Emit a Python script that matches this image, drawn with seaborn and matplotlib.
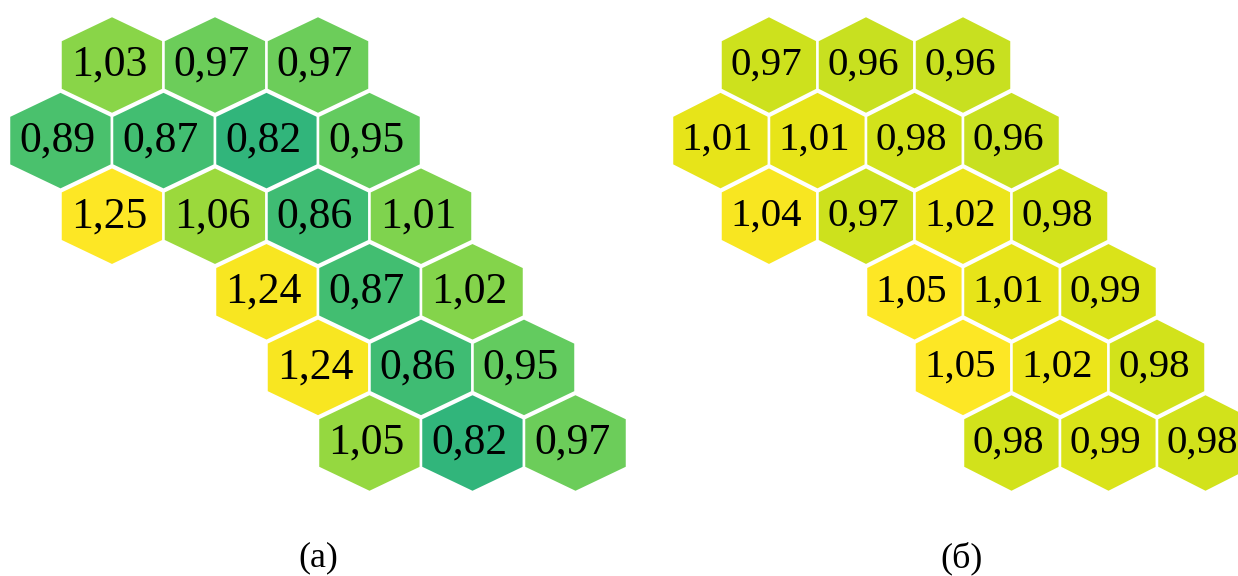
import numpy as np
import matplotlib
matplotlib.use("Agg")
import matplotlib.pyplot as plt
from matplotlib.collections import PolyCollection
from matplotlib.colors import Normalize
import seaborn as sns

sns.set_theme(style="white")
plt.rcParams["font.family"] = ["Liberation Serif", "DejaVu Serif"]

# Hexagon grid layout: each row starts at a half-cell offset (in cell widths)
row_starts = [1.0, 0.5, 1.0, 2.5, 3.0, 3.5]

# Panel (a) values, row by row
values_a = [
    [1.03, 0.97, 0.97],
    [0.89, 0.87, 0.82, 0.95],
    [1.25, 1.06, 0.86, 1.01],
    [1.24, 0.87, 1.02],
    [1.24, 0.86, 0.95],
    [1.05, 0.82, 0.97],
]

# Panel (б) values, row by row
values_b = [
    [0.97, 0.96, 0.96],
    [1.01, 1.01, 0.98, 0.96],
    [1.04, 0.97, 1.02, 0.98],
    [1.05, 1.01, 0.99],
    [1.05, 1.02, 0.98],
    [0.98, 0.99, 0.98],
]

panel_labels = ["(a)", "(б)"]

cmap = sns.color_palette("viridis", as_cmap=True)

W, H = 1238, 576
fig = plt.figure(figsize=(W / 100, H / 100), dpi=100)

# Pointy-top hexagon outline in grid units (width 1, row pitch 1)
RV = 0.65
ang = np.deg2rad(np.arange(90, 450, 60))
hex_dx = np.cos(ang) / np.cos(np.deg2rad(30)) * 0.5
hex_dy = np.sin(ang) * RV


def draw_panel(ax, values, norm, fontsize):
    polys, cols, centers = [], [], []
    for r, (start, row) in enumerate(zip(row_starts, values)):
        for k, v in enumerate(row):
            cx, cy = start + k, r
            polys.append(np.column_stack([cx + hex_dx, cy + hex_dy]))
            cols.append(cmap(norm(v)))
            centers.append((cx, cy, v))
    pc = PolyCollection(polys, facecolors=cols, edgecolors="white",
                        linewidths=1.8)
    ax.add_collection(pc)
    for cx, cy, v in centers:
        ax.text(cx - 0.03, cy, f"{v:.2f}".replace(".", ","), ha="center",
                va="center", fontsize=fontsize, color="black")


# pixel geometry of each panel: (x origin, cell width, axes left, axes right)
panels = [
    (values_a, Normalize(vmin=0.0, vmax=1.25), 31.5, 9.0, 103.0, 0, 640),
    (values_b, Normalize(vmin=0.0, vmax=1.05), 29.5, 672.0, 97.0, 640, 1238),
]
y0, pitch = 65.0, 75.6
ax_top, ax_bot = 0, 520

for (vals, norm, fs, x0, cw, pl, pr), lab in zip(panels, panel_labels):
    ax = fig.add_axes([pl / W, 1 - ax_bot / H, (pr - pl) / W,
                       (ax_bot - ax_top) / H])
    ax.set_xlim((pl - x0) / cw, (pr - x0) / cw)
    ax.set_ylim((ax_bot - y0) / pitch, (ax_top - y0) / pitch)
    ax.set_axis_off()
    draw_panel(ax, vals, norm, fs)

fig.text(318 / W, 1 - 558 / H, panel_labels[0], ha="center", va="center",
         fontsize=26, color="black")
fig.text(962 / W, 1 - 558 / H, panel_labels[1], ha="center", va="center",
         fontsize=26, color="black")

fig.savefig("out.png", dpi=100, facecolor="white")
